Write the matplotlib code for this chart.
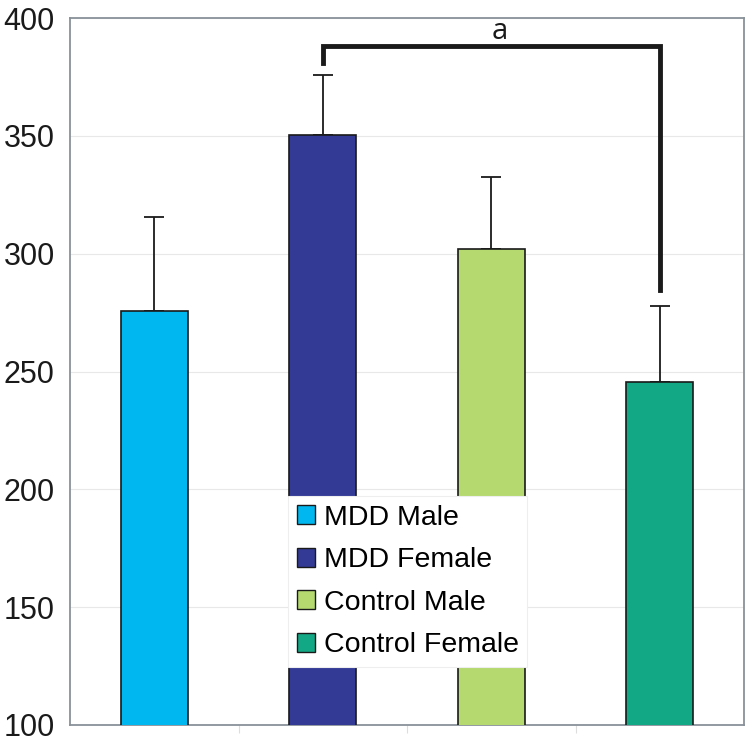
import matplotlib
matplotlib.use("Agg")
import matplotlib.pyplot as plt
from matplotlib.patches import Patch

plt.rcParams['font.family'] = ['Liberation Sans', 'DejaVu Sans']

categories = ["MDD Male", "MDD Female", "Control Male", "Control Female"]
values = [275.7, 350.4, 302.0, 245.6]
errors = [40.0, 25.4, 30.5, 32.2]
colors = ["#00b8ef", "#323a96", "#b5d96e", "#12a885"]
yticks = [100, 150, 200, 250, 300, 350, 400]
bracket_y = 388
bracket_left_end = 381
bracket_right_end = 284.6

fig = plt.figure(figsize=(7.53, 7.45), dpi=100)
ax = fig.add_axes([70/753, 20/745, 674/753, 707/745])

x = list(range(len(categories)))
ax.bar(x, values, width=0.40, color=colors, edgecolor="#1a1a1a", linewidth=1.2, zorder=3)
ax.errorbar(x, values, yerr=[[0]*4, errors], fmt="none", ecolor="#1a1a1a",
            elinewidth=1.3, capsize=7, capthick=1.3, zorder=2)

ax.set_xlim(-0.5, 3.5)
ax.set_ylim(100, 400)
ax.set_yticks(yticks)
ax.set_yticklabels([str(t) for t in yticks], fontsize=22)
ax.tick_params(axis='y', length=0, pad=11, colors="#1a1a1a")
ax.set_xticks([0.5, 1.5, 2.5])
ax.set_xticklabels([])
ax.tick_params(axis='x', length=6, direction='out', color="#dddddd")
ax.grid(axis='y', color="#e8e8e8", linewidth=0.8, zorder=0)
for s in ax.spines.values():
    s.set_color("#8a9199")
    s.set_linewidth(1.3)

# significance bracket
ax.plot([1, 1, 3, 3], [bracket_left_end, bracket_y, bracket_y, bracket_right_end],
        color="#1a1a1a", linewidth=3.5, solid_joinstyle='miter', zorder=4)
ax.text(2.05, 391.3, "a", ha="center", va="baseline", fontsize=21,
        family=["Open Sans", "DejaVu Sans"], color="#1a1a1a")

handles = [Patch(facecolor=c, edgecolor="#1a1a1a", label=l) for c, l in zip(colors, categories)]
leg = ax.legend(handles=handles, loc="lower left", bbox_to_anchor=(218/674, 58/707),
                fontsize=20.5, frameon=True, fancybox=False, framealpha=1,
                handlelength=0.65, handleheight=0.65, handletextpad=0.3,
                labelspacing=0.58, borderpad=0.3, borderaxespad=0)
leg.get_frame().set_edgecolor("#eeeeee")
leg.get_frame().set_linewidth(0.8)
leg.set_zorder(5)

fig.savefig("out.png", dpi=100)
